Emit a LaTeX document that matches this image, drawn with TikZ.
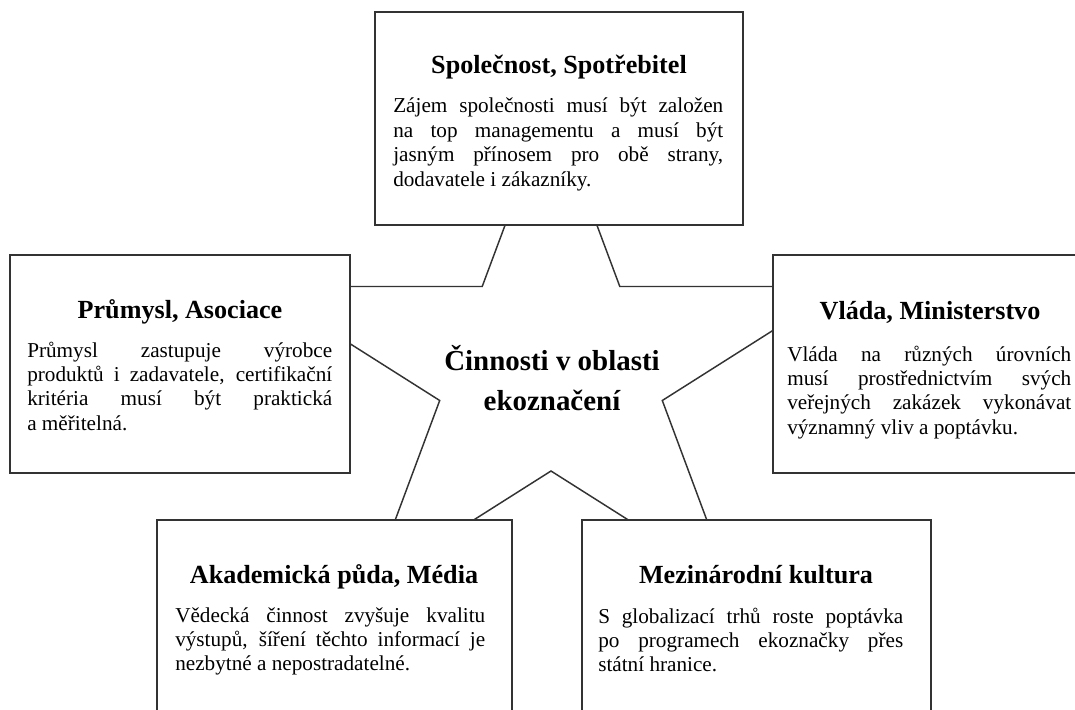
\documentclass[tikz,border=0pt]{standalone}
\usepackage{fontspec}
\setmainfont{Liberation Serif}
\usetikzlibrary{fit}
\tolerance=9999
\hyphenpenalty=10000
\hbadness=10000

\begin{document}
\begin{tikzpicture}[
    x=0.75pt, y=-0.75pt,
    panel/.style={draw=black!80, fill=white, line width=1.2pt, inner sep=0pt},
    heading/.style={font=\fontsize{19.6}{23}\selectfont\bfseries, inner sep=0pt, anchor=base},
    bodytext/.style={font=\fontsize{15.9}{18.3}\selectfont, inner sep=0pt, anchor=base west,
                     align=justify},
    starline/.style={draw=black!80, line width=1.1pt, line join=miter},
    core/.style={font=\fontsize{21.7}{29.3}\selectfont\bfseries, align=center, inner sep=0pt, anchor=base},
]
\useasboundingbox (0,0) rectangle (1075,710);
\clip (0,0) rectangle (1075,710);

% --- Star ---
\draw[starline] (551,102) -- (482.2,286.5) -- (259.7,286.5) -- (439.7,400.5)
    -- (371,585) -- (551,471) -- (731,585) -- (662.3,400.5)
    -- (842.3,286.5) -- (619.8,286.5) -- cycle;

\node[core] (core) at (552,410) {Činnosti v oblasti\\ekoznačení};

% ============================================================
% Top: Společnost, Spotřebitel
% ============================================================
\node[panel, fit={(375,12) (743,225)}] (spol) {};
\node[heading] (spolT) at (559,74) {Společnost, Spotřebitel};
\node[bodytext, text width=247.5pt] (spolB) at (393,113)
    {Zájem společnosti musí být založen\linebreak
     na top managementu a musí být\linebreak
     jasným přínosem pro obě strany,\linebreak
     dodavatele i zákazníky.};

% ============================================================
% Left: Průmysl, Asociace
% ============================================================
\node[panel, fit={(10,255) (350,473)}] (prum) {};
\node[heading] (prumT) at (180,318) {Průmysl, Asociace};
\node[bodytext, text width=228.75pt] (prumB) at (27,357)
    {Průmysl zastupuje výrobce\linebreak
     produktů i zadavatele, certifikační\linebreak
     kritéria musí být praktická\linebreak
     a měřitelná.};

% ============================================================
% Right: Vláda, Ministerstvo
% ============================================================
\node[panel, fit={(773,255) (1088,473)}] (vlada) {};
\node[heading] (vladaT) at (930,319) {Vláda, Ministerstvo};
\node[bodytext, text width=213pt] (vladaB) at (787,361)
    {Vláda na různých úrovních\linebreak
     musí prostřednictvím svých\linebreak
     veřejných zakázek vykonávat\linebreak
     významný vliv a poptávku.};

% ============================================================
% Bottom left: Akademická půda, Média
% ============================================================
\node[panel, fit={(157,520) (512,740)}] (akad) {};
\node[heading] (akadT) at (334,583) {Akademická půda, Média};
\node[bodytext, text width=232.5pt] (akadB) at (175,622)
    {Vědecká činnost zvyšuje kvalitu\linebreak
     výstupů, šíření těchto informací je\linebreak
     nezbytné a nepostradatelné.};

% ============================================================
% Bottom right: Mezinárodní kultura
% ============================================================
\node[panel, fit={(582,520) (931,740)}] (mezi) {};
\node[heading] (meziT) at (756,583) {Mezinárodní kultura};
\node[bodytext, text width=228.75pt] (meziB) at (598,623)
    {S globalizací trhů roste poptávka\linebreak
     po programech ekoznačky přes\linebreak
     státní hranice.};

\end{tikzpicture}
\end{document}
